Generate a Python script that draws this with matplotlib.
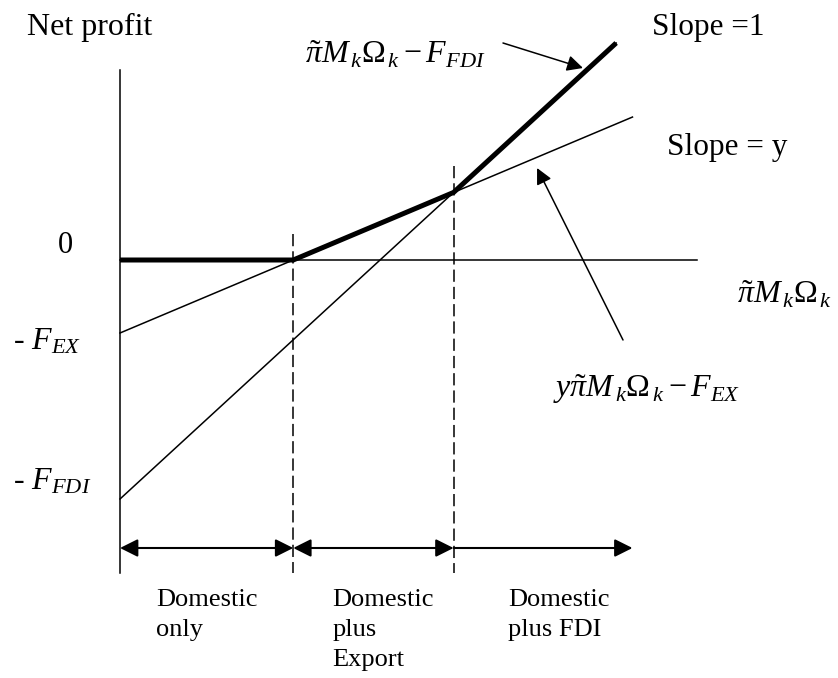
import numpy as np
import matplotlib
matplotlib.use("Agg")
import matplotlib.pyplot as plt

plt.rcParams['font.family'] = ['Liberation Serif', 'DejaVu Serif']
plt.rcParams['mathtext.fontset'] = 'custom'
plt.rcParams['mathtext.rm'] = 'Liberation Serif'
plt.rcParams['mathtext.it'] = 'Liberation Serif:italic'
plt.rcParams['mathtext.bf'] = 'Liberation Serif:bold'

# model parameters
F_EX = 0.73        # fixed cost of exporting
F_FDI = 2.39       # fixed cost of FDI
gamma = 0.4585     # slope of the export profit line ("y")

# where the drawn lines stop
x_end_fdi = 4.56
x_end_export = 4.71
x_end_axis = 5.30
y_axis_top = 1.90
y_axis_bottom = -3.13

region_labels = ['Domestic\nonly', 'Domestic\nplus\nExport', 'Domestic\nplus FDI']

# cut-off points
x_export = F_EX / gamma
x_fdi = (F_FDI - F_EX) / (1 - gamma)

fig = plt.figure(figsize=(8.38, 6.78), dpi=100)
ax = fig.add_axes([0, 0, 1, 1])
ax.set_xlim(-1.103, 6.599)
ax.set_ylim(-4.18, 2.60)
ax.axis('off')

# axes of the diagram
ax.plot([0, 0], [y_axis_top, y_axis_bottom], color='black', lw=1.1)
ax.plot([0, x_end_axis], [0, 0], color='black', lw=1.1)

# profit lines
xe = np.array([0, x_end_export])
ax.plot(xe, gamma * xe - F_EX, color='black', lw=1.1)
xf = np.array([0, x_end_fdi])
ax.plot(xf, xf - F_FDI, color='black', lw=1.1)

# upper envelope (thick)
env_x = np.array([0, x_export, x_fdi, x_end_fdi])
env_y = np.maximum.reduce([np.zeros(4), gamma * env_x - F_EX, env_x - F_FDI])
ax.plot(env_x, env_y, color='black', lw=3.6, solid_capstyle='butt', solid_joinstyle='miter')

# dashed cut-off lines
for xc in [x_export, x_fdi]:
    top = max(0, gamma * xc - F_EX) + 0.26
    ax.plot([xc, xc], [top, y_axis_bottom], color='black', lw=1.1, dashes=(8, 3.3))

# range arrows
y_arr = -2.88
arrow_kw = dict(color='black', lw=1.5, shrinkA=0, shrinkB=0, mutation_scale=27)
ax.annotate('', xy=(x_export, y_arr), xytext=(0, y_arr),
            arrowprops=dict(arrowstyle='<|-|>', **arrow_kw))
ax.annotate('', xy=(x_fdi, y_arr), xytext=(x_export, y_arr),
            arrowprops=dict(arrowstyle='<|-|>', **arrow_kw))
ax.annotate('', xy=(x_end_export, y_arr), xytext=(x_fdi, y_arr),
            arrowprops=dict(arrowstyle='-|>', **arrow_kw))

# pointers to the lines
ptr_kw = dict(arrowstyle='-|>', color='black', lw=1.1, shrinkA=0, shrinkB=0, mutation_scale=24)
ax.annotate('', xy=(4.255, 1.92), xytext=(3.52, 2.17), arrowprops=ptr_kw)
ax.annotate('', xy=(3.833, 0.92), xytext=(4.623, -0.80), arrowprops=ptr_kw)

# labels
ax.text(-0.855, 2.25, 'Net profit', fontsize=23, va='baseline')
ax.text(-0.57, 0.07, '0', fontsize=22, va='baseline')
ax.text(-0.983, -0.90, r'- $F_{EX}$', fontsize=23, va='baseline')
ax.text(-0.983, -2.30, r'- $F_{FDI}$', fontsize=23, va='baseline')
ax.text(1.70, 1.97, r'$\tilde{\pi}M_{\,k}\Omega_{\,k} - F_{FDI}$', fontsize=23, va='baseline')
ax.text(4.89, 2.25, 'Slope =1', fontsize=22.5, va='baseline')
ax.text(5.03, 1.05, 'Slope = y', fontsize=22.5, va='baseline')
ax.text(5.67, -0.43, r'$\tilde{\pi}M_{\,k}\Omega_{\,k}$', fontsize=23, va='baseline')
ax.text(3.98, -1.37, r'$y\tilde{\pi}M_{\,k}\Omega_{\,k} - F_{EX}$', fontsize=23, va='baseline')

# region names under the arrows, one line at a time
for lx, lab in zip([0.331, 1.949, 3.566], region_labels):
    for i, line in enumerate(lab.split('\n')):
        ax.text(lx, -3.46 - 0.30 * i, line, fontsize=19, va='baseline')

plt.savefig('out.png', dpi=100)
